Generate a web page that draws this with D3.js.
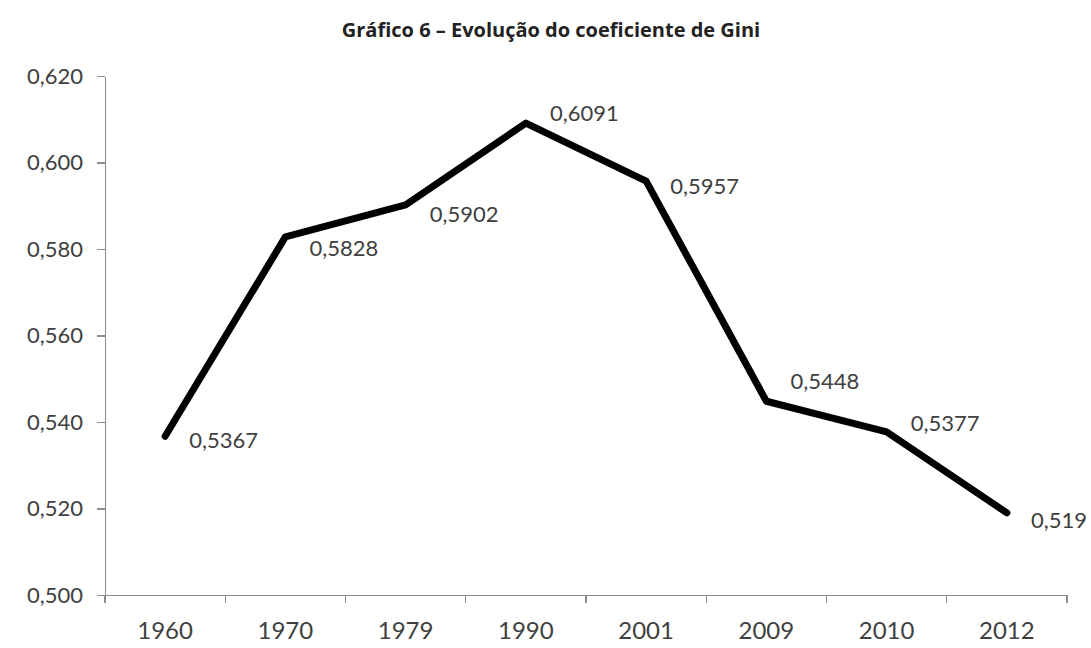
<!doctype html>
<html>
<head>
<meta charset="utf-8">
<style>
  body { margin: 0; background: white; font-family: Lato, "Open Sans", sans-serif; }
  .axis path, .axis line { stroke: #8c8c8c; stroke-width: 1.3px; shape-rendering: crispEdges; }
  .axis text { fill: #404040; font-size: 22px; font-family: Lato, sans-serif; }
  .xaxis text { font-size: 24px; }
  .label { fill: #404040; font-size: 22px; }
  .line { fill: none; stroke: black; stroke-width: 7px; stroke-linejoin: round; stroke-linecap: round; }
</style>
<script src="https://d3js.org/d3.v7.min.js"></script>
</head>
<body>
<script>
// data
var years = ['1960', '1970', '1979', '1990', '2001', '2009', '2010', '2012'];
var gini = [0.5367, 0.5828, 0.5902, 0.6091, 0.5957, 0.5448, 0.5377, 0.519];
var labels = ['0,5367', '0,5828', '0,5902', '0,6091', '0,5957', '0,5448', '0,5377', '0,519'];
var yTicks = [0.50, 0.52, 0.54, 0.56, 0.58, 0.60, 0.62];

// vertical nudge of each data label (layout only)
var labelDy = [4, 11, 9, -10, 5, -20, -9, 7];

var W = 1091, H = 648;
var margin = { top: 76, right: 24, bottom: 53, left: 105 };
var width = W - margin.left - margin.right;
var height = H - margin.top - margin.bottom;

var svg = d3.select('body').append('svg')
  .attr('width', W)
  .attr('height', H);

svg.append('text')
  .text('Gráfico 6 – Evolução do coeficiente de Gini')
  .attr('x', 551)
  .attr('y', 37)
  .attr('text-anchor', 'middle')
  .style('font-family', '"Open Sans", sans-serif')
  .style('font-weight', 'bold')
  .style('font-size', '20px')
  .style('fill', '#222');

var g = svg.append('g')
  .attr('transform', `translate(${margin.left}, ${margin.top})`);

var x = d3.scaleBand().domain(years).range([0, width]);
var y = d3.scaleLinear().domain([0.5, 0.62]).range([height, 0]);

var fmt = d => d3.format('.3f')(d).replace('.', ',');

// y axis
g.append('g')
  .attr('class', 'axis')
  .call(d3.axisLeft(y).tickValues(yTicks).tickFormat(fmt).tickSize(8).tickSizeOuter(0).tickPadding(14));

// x axis with ticks between categories
var xAxis = g.append('g')
  .attr('class', 'axis xaxis')
  .attr('transform', `translate(0, ${height})`)
  .call(d3.axisBottom(x).tickSize(0).tickSizeOuter(0).tickPadding(27));

xAxis.selectAll('.sep')
  .data(d3.range(years.length + 1))
  .enter().append('line')
  .attr('class', 'sep')
  .attr('x1', i => i * x.step())
  .attr('x2', i => i * x.step())
  .attr('y1', 0)
  .attr('y2', 8);

var pts = years.map((d, i) => ({ year: d, v: gini[i], label: labels[i], dy: labelDy[i] }));

var line = d3.line()
  .x(d => x(d.year) + x.bandwidth() / 2)
  .y(d => y(d.v));

g.append('path')
  .datum(pts)
  .attr('class', 'line')
  .attr('d', line);

g.selectAll('.label')
  .data(pts)
  .enter().append('text')
  .attr('class', 'label')
  .attr('x', d => x(d.year) + x.bandwidth() / 2 + 24)
  .attr('y', d => y(d.v) + d.dy)
  .attr('dy', '0.35em')
  .text(d => d.label);
</script>
</body>
</html>
